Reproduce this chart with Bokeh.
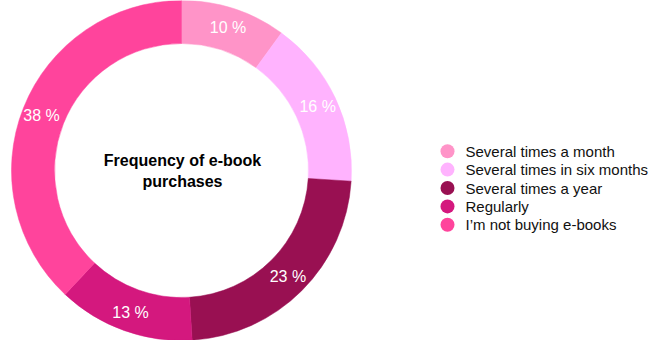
import numpy as np
from bokeh.plotting import figure
from bokeh.models import ColumnDataSource, Range1d
from bokeh.core.properties import value
from bokeh.embed import file_html
from bokeh.resources import INLINE

categories = ["Several times a month", "Several times in six months", "Several times a year",
              "Regularly", "I\u2019m not buying e-books"]
shares = [10, 16, 23, 13, 38]
colors = ["#ff94c8", "#ffb3fe", "#991052", "#d4187e", "#ff449c"]
title_lines = ["Frequency of e-book", "purchases"]

W, H = 651, 340
cx, cy = 181, H - 170
r_out, r_in = 170, 127

total = float(sum(shares))
frac = np.array(shares) / total
cum_end = np.cumsum(frac)
cum_start = cum_end - frac
start = np.pi / 2 - cum_start * 2 * np.pi
end = np.pi / 2 - cum_end * 2 * np.pi
mid = (start + end) / 2
r_lab = (r_in + r_out) / 2 + 2

src = ColumnDataSource(dict(
    start=start, end=end, color=colors, cat=categories,
    lx=cx + r_lab * np.cos(mid), ly=cy + r_lab * np.sin(mid),
    lab=["%d %%" % s for s in shares],
))

p = figure(width=W, height=H, output_backend="svg", toolbar_location=None,
           x_range=Range1d(0, W), y_range=Range1d(0, H), min_border=0)
p.axis.visible = False
p.grid.visible = False
p.outline_line_color = None
p.background_fill_color = "white"

p.annular_wedge(x=cx, y=cy, inner_radius=r_in, outer_radius=r_out,
                start_angle="start", end_angle="end", direction="clock",
                fill_color="color", line_color="color", line_width=0.5, source=src)

p.text(x="lx", y="ly", text="lab", source=src, text_color="white",
       text_font=value("Liberation Sans"), text_font_size="16px",
       text_align="center", text_baseline="middle")

p.text(x=[cx + 1, cx + 1], y=[H - 160, H - 181], text=title_lines,
       text_font=value("Liberation Sans"), text_font_size="16px", text_font_style="bold",
       text_color="black", text_align="center", text_baseline="middle")

# legend
leg_top = 150.7
step = 18.4
ly = [H - (leg_top + i * step) for i in range(len(categories))]
p.scatter(x=[447] * len(categories), y=ly, size=14, marker="circle",
          fill_color=colors, line_color=None)
p.text(x=[465] * len(categories), y=ly, text=categories,
       text_font=value("Liberation Sans"), text_font_size="15px", text_color="#111111",
       text_align="left", text_baseline="middle")

open("out.html", "w").write(file_html(p, INLINE))
